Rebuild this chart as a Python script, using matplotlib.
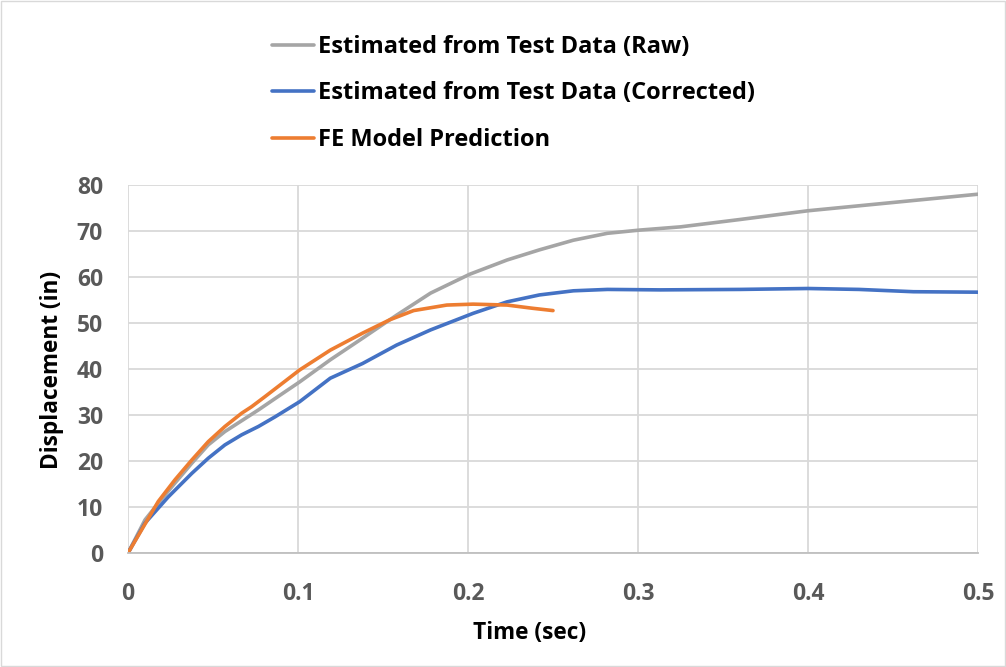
import matplotlib
matplotlib.use("Agg")
import matplotlib.pyplot as plt
from matplotlib.patches import Rectangle

t_raw = [0, 0.01, 0.0178, 0.0276, 0.0375, 0.0472, 0.057, 0.0767, 0.0894, 0.101, 0.119, 0.138,
         0.158, 0.178, 0.201, 0.223, 0.242, 0.262, 0.282, 0.301, 0.325, 0.36, 0.4, 0.45, 0.5]
d_raw = [0, 7.2, 10.8, 15.2, 19.5, 23.5, 26.4, 31.1, 34.3, 37.2, 42.0, 46.7,
         51.7, 56.5, 60.6, 63.7, 65.9, 68.0, 69.5, 70.2, 70.9, 72.5, 74.4, 76.2, 78.0]

t_cor = [0, 0.01, 0.0237, 0.0375, 0.0472, 0.057, 0.0669, 0.0767, 0.0865, 0.101, 0.119, 0.138,
         0.158, 0.178, 0.203, 0.223, 0.242, 0.262, 0.282, 0.313, 0.36, 0.4, 0.43, 0.462, 0.5]
d_cor = [0, 6.5, 12.2, 17.3, 20.6, 23.5, 25.7, 27.5, 29.6, 32.9, 38.0, 41.2,
         45.2, 48.5, 52.1, 54.6, 56.1, 57.0, 57.3, 57.2, 57.3, 57.5, 57.3, 56.8, 56.7]

t_fe = [0, 0.0178, 0.0276, 0.0375, 0.0472, 0.057, 0.0669, 0.0727, 0.0806, 0.0894, 0.101, 0.119,
        0.138, 0.154, 0.168, 0.1875, 0.203, 0.223, 0.238, 0.25]
d_fe = [0, 11.2, 15.9, 20.2, 24.2, 27.5, 30.4, 31.8, 34.0, 36.5, 39.8, 44.1,
        47.8, 50.7, 52.7, 53.9, 54.1, 53.9, 53.2, 52.7]

x_ticks = [0, 0.1, 0.2, 0.3, 0.4, 0.5]
x_labels = ["0", "0.1", "0.2", "0.3", "0.4", "0.5"]
y_ticks = [0, 10, 20, 30, 40, 50, 60, 70, 80]

labels = ["Estimated from Test Data (Raw)",
          "Estimated from Test Data (Corrected)",
          "FE Model Prediction"]
colors = ["#A5A5A5", "#4472C4", "#ED7D31"]

plt.rcParams['font.family'] = ['Open Sans', 'DejaVu Sans']

W, H = 1006, 667
fig = plt.figure(figsize=(W/100, H/100), dpi=100)
ax = fig.add_axes([128/W, 1-553/H, 850/W, 368/H])

l1, = ax.plot(t_raw, d_raw, color=colors[0], lw=2.6, solid_capstyle='round', solid_joinstyle='round')
l2, = ax.plot(t_cor, d_cor, color=colors[1], lw=2.6, solid_capstyle='round', solid_joinstyle='round')
l3, = ax.plot(t_fe, d_fe, color=colors[2], lw=2.6, solid_capstyle='round', solid_joinstyle='round')

ax.set_xlim(0, 0.5)
ax.set_ylim(0, 80)
ax.set_xticks(x_ticks)
ax.set_xticklabels(x_labels)
ax.set_yticks(y_ticks)
ax.grid(True, color="#D9D9D9", lw=1.3)
ax.set_axisbelow(True)
for s in ['top', 'right', 'left']:
    ax.spines[s].set_visible(False)
ax.spines['bottom'].set_color("#BFBFBF")
ax.spines['bottom'].set_linewidth(1.3)
ax.tick_params(length=0, labelsize=16.5, labelcolor="#595959")
ax.tick_params(axis='x', pad=21)
ax.tick_params(axis='y', pad=18)
for lab in ax.get_xticklabels() + ax.get_yticklabels():
    lab.set_fontweight('bold')

ax.set_xlabel("Time (sec)", fontsize=16.3, fontweight='bold')
ax.set_ylabel("Displacement (in)", fontsize=16.3, fontweight='bold')
ax.xaxis.set_label_coords(530/W, 1-633/H, transform=fig.transFigure)
ax.yaxis.set_label_coords(52/W, 1-370/H, transform=fig.transFigure)
ax.xaxis.label.set_va('center')
ax.yaxis.label.set_va('center')

leg = fig.legend([l1, l2, l3], labels, loc='upper left',
                 bbox_to_anchor=(272/W, 1-35/H), frameon=False,
                 prop={'family': 'Open Sans', 'weight': 'bold', 'size': 17},
                 handlelength=1.78, handletextpad=0.17, labelspacing=0.95,
                 borderpad=0, borderaxespad=0)
for h in leg.get_lines():
    h.set_linewidth(2.6)

fig.patches.append(Rectangle((0.001, 0.001), 0.998, 0.998, transform=fig.transFigure,
                             fill=False, edgecolor="#D9D9D9", lw=1))

fig.savefig("out.png", dpi=100)
